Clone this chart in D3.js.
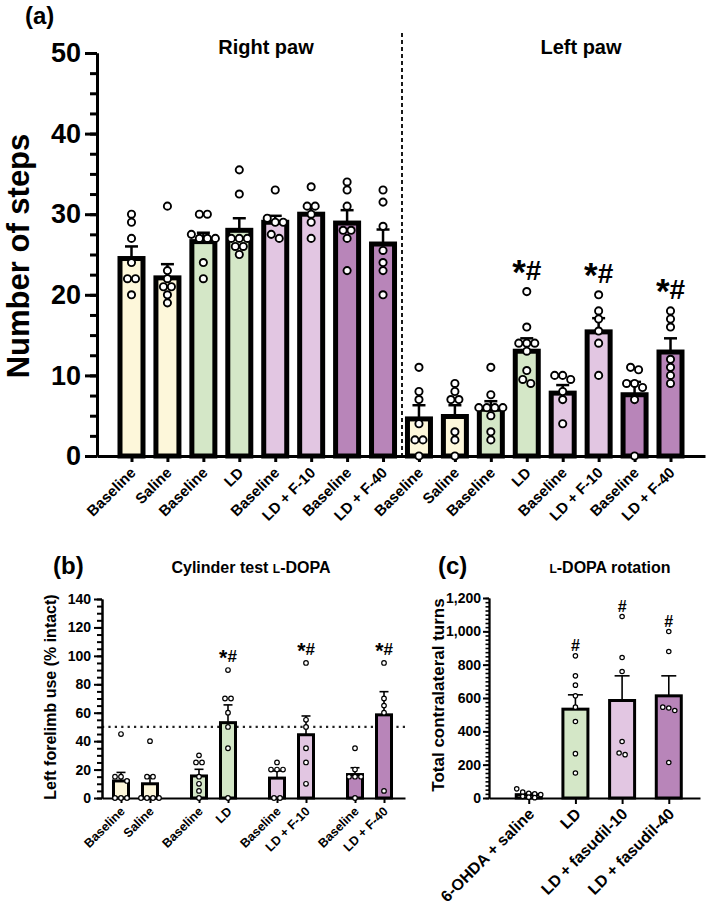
<!DOCTYPE html>
<html>
<head>
<meta charset="utf-8">
<script src="https://cdn.jsdelivr.net/npm/d3@7.9.0/dist/d3.min.js"></script>
<style>
  body { margin: 0; background: #fff; }
  svg text { font-family: "Liberation Sans", Arial, Helvetica, sans-serif; font-weight: bold; fill: #000; }
</style>
</head>
<body>
<svg id="fig" width="709" height="909"></svg>
<script>
// ---------- data: (a) stepping test ----------
const stepLabels = ['Baseline', 'Saline', 'Baseline', 'LD', 'Baseline', 'LD + F-10', 'Baseline', 'LD + F-40',
  'Baseline', 'Saline', 'Baseline', 'LD', 'Baseline', 'LD + F-10', 'Baseline', 'LD + F-40'];
const stepMeans = [24.5, 22.1, 26.6, 28.0, 29.0, 30.0, 28.9, 26.3, 4.6, 4.9, 5.8, 13.0, 7.8, 15.4, 7.6, 12.9];
const stepSem = [1.5, 1.7, 1.1, 1.5, 0.8, 1.1, 1.6, 1.8, 1.7, 1.4, 1.0, 1.6, 1.0, 1.7, 1.6, 1.7];
const stepPoints = [
  [30, 29, 27, 24, 22, 22, 20],
  [31, 23, 22, 21, 21, 20, 19],
  [30, 30, 27.5, 27, 27, 27, 24, 22],
  [35.5, 32.5, 27, 27, 27, 26, 26, 25],
  [33, 29.5, 29, 29, 27.5, 27],
  [33.4, 31, 31, 30, 29, 27],
  [34, 33, 31, 28, 28, 27, 23],
  [33, 31.5, 28.5, 25.5, 24, 23, 20],
  [11, 8, 7, 4, 2, 2, 0],
  [9, 8, 7, 7, 3, 2, 0],
  [11, 7.6, 6, 6, 6, 6, 5, 3, 2],
  [20.4, 16, 14, 14, 14, 13, 10.6, 9.5, 9],
  [10, 10, 9.5, 8, 7, 4],
  [20, 18, 17, 15.5, 14, 10],
  [11, 10.7, 9, 9, 8.5, 7, 0],
  [18, 17, 16, 12, 11, 10, 9]
];
const stepMarks = ['', '', '', '', '', '', '', '', '', '', '', '*#', '', '*#', '', '*#'];

// ---------- data: (b) cylinder test ----------
const cylLabels = ['Baseline', 'Saline', 'Baseline', 'LD', 'Baseline', 'LD + F-10', 'Baseline', 'LD + F-40'];
const cylMeans = [12, 10, 15.5, 53, 14, 44.5, 16.5, 58.5];
const cylSem = [6, 5.5, 4.7, 12.5, 5, 13.2, 4.8, 16.3];
const cylPoints = [
  [45, 15, 15, 12, 0, 0, 0],
  [40, 15, 15, 0, 0, 0, 0],
  [30, 25, 25, 15, 10, 5, 0],
  [90, 70, 70, 60, 50, 35, 0],
  [25, 20, 20, 20, 0, 0],
  [95, 55, 50, 35, 25, 10],
  [35, 20, 15, 15, 15, 0],
  [95, 70, 65, 60, 5]
];
const cylMarks = ['', '', '', '*#', '', '*#', '', '*#'];

// ---------- data: (c) rotation ----------
const rotLabels = ['6-OHDA + saline', 'LD', 'LD + fasudil-10', 'LD + fasudil-40'];
const rotMeans = [20, 533, 585, 613];
const rotSem = [8, 86, 148, 120];
const rotPoints = [
  [55, 35, 28, 25, 20, 10, 5, 2],
  [853, 733, 677, 613, 545, 459, 266, 150],
  [1089, 843, 759, 339, 270, 260],
  [999, 879, 545, 540, 525, 213]
];
const rotMarks = ['', '#', '#', '#'];

const groupColors = ['#fdf7da', '#d4e7c7', '#e2c6e2', '#b885b9'];

const svg = d3.select('#fig');

// spread points of similar value side by side (like a scatter dot plot)
function swarm(vals, y, s) {
  const pts = vals.map((v) => ({ v, py: y(v) })).sort((a, b) => a.py - b.py);
  const rows = [];
  pts.forEach((p) => {
    const row = rows[rows.length - 1];
    if (row && p.py - row[0].py < s) row.push(p);
    else rows.push([p]);
  });
  rows.forEach((row) => row.forEach((p, j) => { p.dx = (j - (row.length - 1) / 2) * s; }));
  return pts;
}

function drawBars(g, o) {
  const base = o.y(0);
  g.selectAll('rect.bar')
    .data(o.means)
    .join('rect')
    .attr('class', 'bar')
    .attr('x', (d, i) => o.cx(i) - o.barW / 2)
    .attr('y', (d) => o.y(d))
    .attr('width', o.barW)
    .attr('height', (d) => base - o.y(d))
    .attr('fill', (d, i) => o.color(i))
    .attr('stroke', '#000')
    .attr('stroke-width', o.strokeW);

  o.means.forEach((m, i) => {
    const top = o.y(m + o.sems[i]);
    g.append('line')
      .attr('x1', o.cx(i)).attr('x2', o.cx(i))
      .attr('y1', o.y(m)).attr('y2', top)
      .attr('stroke', '#000').attr('stroke-width', o.errW);
    g.append('line')
      .attr('x1', o.cx(i) - o.capW / 2).attr('x2', o.cx(i) + o.capW / 2)
      .attr('y1', top).attr('y2', top)
      .attr('stroke', '#000').attr('stroke-width', o.errW);
  });

  o.points.forEach((vals, i) => {
    const pts = swarm(vals, o.y, o.dotS);
    g.append('g')
      .selectAll('circle')
      .data(pts)
      .join('circle')
      .attr('cx', (p) => o.cx(i) + p.dx)
      .attr('cy', (p) => p.py)
      .attr('r', o.dotR)
      .attr('fill', '#fff')
      .attr('stroke', '#000')
      .attr('stroke-width', o.dotW);
    if (o.marks[i]) {
      const t = g.append('text')
        .attr('x', o.cx(i))
        .attr('y', o.y(d3.max(vals)) - o.markGap)
        .attr('text-anchor', 'middle')
        .style('font-size', o.markSize + 'px');
      const m = o.marks[i];
      if (m.startsWith('*')) {
        t.append('tspan').style('font-size', (o.markSize * 1.25) + 'px').attr('dy', '0.12em').text('*');
        t.append('tspan').attr('dy', '-0.15em').text(m.slice(1));
      } else {
        t.text(m);
      }
    }
  });
}

function styleAxis(sel, w, fontSize) {
  sel.select('.domain').attr('stroke-width', w);
  sel.selectAll('.tick line').attr('stroke-width', w);
  sel.selectAll('text').style('font-size', fontSize + 'px').attr('fill', '#000');
}

function rotateLabels(sel, fontSize, dx, dy) {
  sel.selectAll('text')
    .attr('x', 0).attr('y', 0).attr('dy', '0.35em')
    .attr('text-anchor', 'end')
    .attr('transform', `translate(${dx},${dy}) rotate(-45)`)
    .style('font-size', fontSize + 'px');
}

// ================= (a) =================
const yA = d3.scaleLinear().domain([0, 50]).range([456, 53]);
const xA = d3.scalePoint().domain(d3.range(16)).range([97, 705]).padding(0.96);
const gA = svg.append('g');

gA.append('g').attr('transform', 'translate(97,0)')
  .call(d3.axisLeft(yA).tickValues(d3.range(0, 50.1, 2.5)).tickSize(7).tickSizeOuter(0).tickFormat(''))
  .call(styleAxis, 3, 26);
gA.append('g').attr('transform', 'translate(97,0)')
  .call(d3.axisLeft(yA).tickValues(d3.range(0, 51, 10)).tickSize(12).tickSizeOuter(0).tickPadding(4))
  .call(styleAxis, 3, 27);

gA.append('g').attr('transform', 'translate(0,456)')
  .call(d3.axisBottom(xA).tickSize(6).tickSizeOuter(0).tickFormat((i) => stepLabels[i]))
  .call(styleAxis, 3, 15)
  .call(rotateLabels, 15, 1, 14);

gA.append('line')
  .attr('x1', (xA(7) + xA(8)) / 2 + 1).attr('x2', (xA(7) + xA(8)) / 2 + 1)
  .attr('y1', 33).attr('y2', 460)
  .attr('stroke', '#000').attr('stroke-width', 1.8).attr('stroke-dasharray', '4,3');

drawBars(gA, {
  cx: (i) => xA(i), y: yA, means: stepMeans, sems: stepSem, points: stepPoints, marks: stepMarks,
  color: (i) => groupColors[Math.floor(i / 2) % 4],
  barW: 23, strokeW: 5, errW: 2.5, capW: 13, dotR: 3.6, dotW: 1.9, dotS: 8,
  markSize: 28, markGap: 12
});

gA.append('text').attr('x', 25).attr('y', 24).style('font-size', '24px').text('(a)');
gA.append('text').attr('x', 266).attr('y', 54).attr('text-anchor', 'middle').style('font-size', '20px').text('Right paw');
gA.append('text').attr('x', 581).attr('y', 54).attr('text-anchor', 'middle').style('font-size', '20px').text('Left paw');
gA.append('text').attr('transform', 'translate(29,256) rotate(-90)').attr('text-anchor', 'middle')
  .style('font-size', '31px').text('Number of steps');

// ================= (b) =================
const yB = d3.scaleLinear().domain([0, 140]).range([798, 599]);
const slotB = (i) => i + 0.69 * Math.floor(i / 2);
const xB = d3.scaleLinear().domain([-0.655, 9.794]).range([102, 405]);
const gB = svg.append('g');

gB.append('line')
  .attr('x1', 102).attr('x2', 405).attr('y1', yB(50)).attr('y2', yB(50))
  .attr('stroke', '#222').attr('stroke-width', 2.2).attr('stroke-dasharray', '2.2,4.2');

gB.append('g').attr('transform', 'translate(102,0)')
  .call(d3.axisLeft(yB).tickValues(d3.range(0, 140.1, 5)).tickSize(5).tickSizeOuter(0).tickFormat(''))
  .call(styleAxis, 2, 14);
gB.append('g').attr('transform', 'translate(102,0)')
  .call(d3.axisLeft(yB).tickValues(d3.range(0, 141, 20)).tickSize(8).tickSizeOuter(0).tickPadding(3))
  .call(styleAxis, 2, 14);

gB.append('g').attr('transform', 'translate(0,798)')
  .call(d3.axisBottom(xB).tickValues(d3.range(8).map(slotB)).tickSize(5).tickSizeOuter(0)
    .tickFormat((d, i) => cylLabels[i]))
  .call(styleAxis, 2, 12.5)
  .call(rotateLabels, 12.5, 1, 11);

drawBars(gB, {
  cx: (i) => xB(slotB(i)), y: yB, means: cylMeans, sems: cylSem, points: cylPoints, marks: cylMarks,
  color: (i) => groupColors[Math.floor(i / 2)],
  barW: 15, strokeW: 3, errW: 1.6, capW: 9, dotR: 2.3, dotW: 1.2, dotS: 6,
  markSize: 17, markGap: 8
});

gB.append('text').attr('x', 53).attr('y', 574).style('font-size', '24px').text('(b)');
const tB = gB.append('text').attr('x', 251).attr('y', 573).attr('text-anchor', 'middle').style('font-size', '16px');
tB.append('tspan').text('Cylinder test ');
tB.append('tspan').style('font-size', '12px').text('L');
tB.append('tspan').text('-DOPA');
gB.append('text').attr('transform', 'translate(56,697) rotate(-90)').attr('text-anchor', 'middle')
  .style('font-size', '16px').text('Left forelimb use (% intact)');

// ================= (c) =================
const yC = d3.scaleLinear().domain([0, 1200]).range([798, 598]);
const xC = d3.scalePoint().domain(d3.range(4)).range([489, 700]).padding(0.76).align(0.56);
const gC = svg.append('g');

gC.append('g').attr('transform', 'translate(489,0)')
  .call(d3.axisLeft(yC).tickValues(d3.range(0, 1200.1, 25)).tickSize(3.5).tickSizeOuter(0).tickFormat(''))
  .call(styleAxis, 1.6, 14);
gC.append('g').attr('transform', 'translate(489,0)')
  .call(d3.axisLeft(yC).tickValues(d3.range(0, 1201, 200)).tickSize(6).tickSizeOuter(0).tickPadding(2)
    .tickFormat(d3.format(',')))
  .call(styleAxis, 2, 14);

gC.append('g').attr('transform', 'translate(0,798)')
  .call(d3.axisBottom(xC).tickSize(6).tickSizeOuter(0).tickFormat((i) => rotLabels[i]))
  .call(styleAxis, 2, 16)
  .call(rotateLabels, 16, 2, 13);

drawBars(gC, {
  cx: (i) => xC(i), y: yC, means: rotMeans, sems: rotSem, points: rotPoints, marks: rotMarks,
  color: (i) => groupColors[i],
  barW: 25, strokeW: 3, errW: 1.6, capW: 15, dotR: 2.2, dotW: 1.2, dotS: 6,
  markSize: 16, markGap: 5
});

gC.append('text').attr('x', 438).attr('y', 574).style('font-size', '24px').text('(c)');
const tC = gC.append('text').attr('x', 610).attr('y', 573).attr('text-anchor', 'middle').style('font-size', '16px');
tC.append('tspan').style('font-size', '12px').text('L');
tC.append('tspan').text('-DOPA rotation');
gC.append('text').attr('transform', 'translate(444,695) rotate(-90)').attr('text-anchor', 'middle')
  .style('font-size', '17px').text('Total contralateral turns');
</script>
</body>
</html>
